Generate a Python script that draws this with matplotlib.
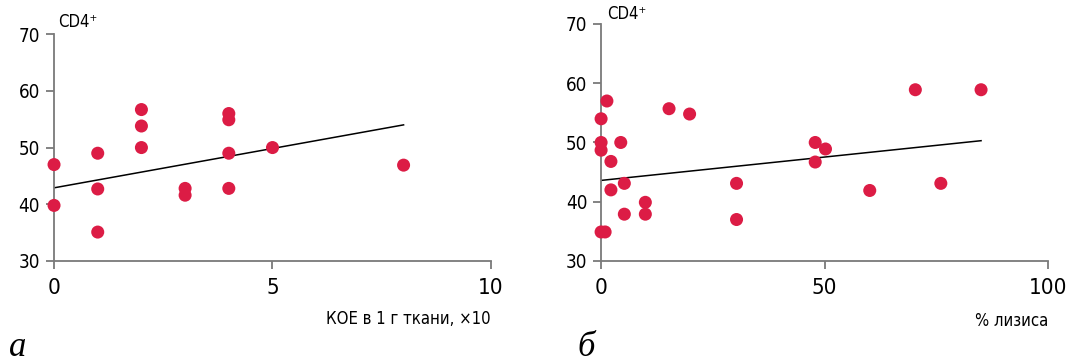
import matplotlib
matplotlib.use("Agg")
import matplotlib.pyplot as plt

# panel a: CFU per 1 g tissue vs CD4+
a_x = [0, 0, 1, 1, 1, 2, 2, 2, 3, 3, 4, 4, 4, 4, 5, 8]
a_y = [47.0, 39.8, 49.0, 42.7, 35.1, 56.7, 53.8, 50.0, 42.8, 41.6, 56.0, 54.9, 49.0, 42.8, 50.0, 46.9]
a_fit_x = [0, 8]
a_fit_y = [42.9, 54.0]

# panel b: % lysis vs CD4+
b_x = [0, 1.3, 0, 0, 4.4, 2.2, 5.2, 2.2, 9.9, 5.2, 9.9, 0, 0.9,
       15.2, 19.8, 30.3, 30.3, 47.9, 47.9, 50.2, 60.1, 70.3, 76.0, 85.0]
b_y = [54.0, 57.0, 50.0, 48.7, 50.0, 46.8, 43.1, 42.0, 39.9, 37.9, 37.9, 34.9, 34.9,
       55.7, 54.8, 43.1, 37.0, 50.0, 46.7, 48.9, 41.9, 58.9, 43.1, 58.9]
b_fit_x = [0, 85]
b_fit_y = [43.6, 50.3]

RED = "#dc1c45"
SPINE = "#7a7a7a"

plt.rcParams["font.family"] = ["DejaVu Sans"]
plt.rcParams["font.stretch"] = "condensed"

fig = plt.figure(figsize=(10.85, 3.63), dpi=100)
ax_a = fig.add_axes([0.0498, 0.281, 0.4027, 0.625])
ax_b = fig.add_axes([0.554, 0.281, 0.412, 0.653])

panels = [
    (ax_a, a_x, a_y, a_fit_x, a_fit_y, (0, 10), [0, 5, 10], "КОЕ в 1 г ткани, ×10"),
    (ax_b, b_x, b_y, b_fit_x, b_fit_y, (0, 100), [0, 50, 100], "% лизиса"),
]

for ax, xs, ys, fx, fy, xlim, xticks, xlabel in panels:
    ax.scatter(xs, ys, s=88, color=RED, edgecolors="none", zorder=3, clip_on=False)
    ax.plot(fx, fy, color="black", lw=1.1, zorder=2)
    ax.set_xlim(*xlim)
    ax.set_ylim(30, 70)
    ax.set_xticks(xticks)
    ax.set_yticks([30, 40, 50, 60, 70])
    for s in ("top", "right"):
        ax.spines[s].set_visible(False)
    for s in ("left", "bottom"):
        ax.spines[s].set_color(SPINE)
        ax.spines[s].set_linewidth(1.3)
    ax.tick_params(axis="y", length=6, width=1.3, color=SPINE, labelsize=13.5, pad=4)
    ax.tick_params(axis="x", length=6, width=1.3, color=SPINE, labelsize=16, pad=6)
    ax.text(1.0, -0.255, xlabel, transform=ax.transAxes, ha="right", va="center", fontsize=12)

# CD4+ labels above the y axes
fig.text(0.0535, 0.94, "CD4⁺", ha="left", va="center", fontsize=12)
fig.text(0.560, 0.962, "CD4⁺", ha="left", va="center", fontsize=12)

fig.text(0.008, 0.02, "а", family="Liberation Serif", style="italic", fontsize=25, ha="left", va="baseline")
fig.text(0.532, 0.02, "б", family="Liberation Serif", style="italic", fontsize=25, ha="left", va="baseline")

fig.savefig("out.png", dpi=100)
